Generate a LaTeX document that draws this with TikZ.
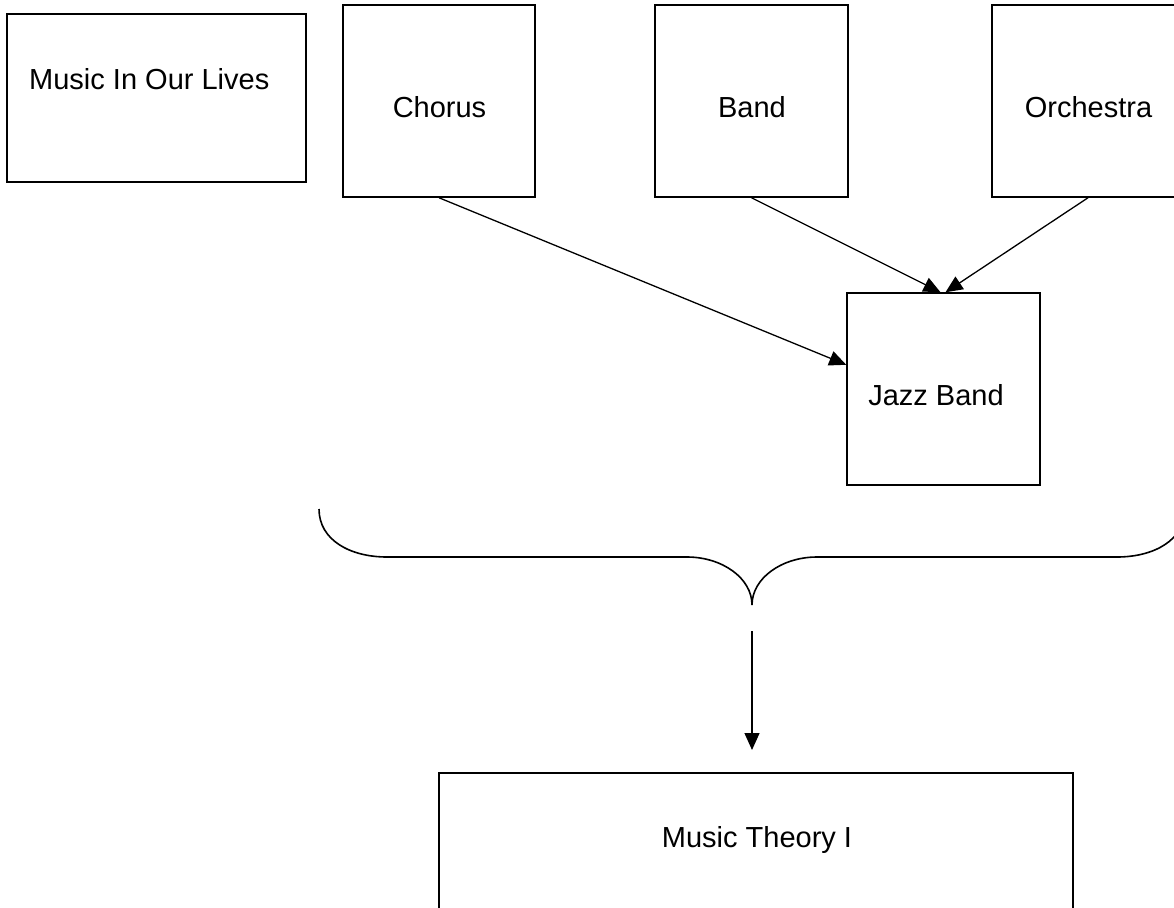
\documentclass[tikz,border=0pt]{standalone}
\usepackage{fontspec}
\setmainfont{Liberation Sans}
\usetikzlibrary{arrows.meta,calc}

\tikzset{
  box/.style={draw=black, line width=1.5pt, inner sep=0pt, fill=white},
  lbl/.style={inner sep=0pt, font=\fontsize{29}{35}\selectfont, anchor=base},
  link/.style={draw=black, line width=1.3pt, -{Triangle[length=17pt,width=15pt]}},
  brace/.style={draw=black, line width=1.6pt}
}

\begin{document}
\begin{tikzpicture}[x=1pt, y=-1pt]
  \clip (0,0) rectangle (1174,907);
  \fill[white] (0,0) rectangle (1174,907);

  % course boxes
  \node[box, minimum width=299pt, minimum height=168pt] (lives)  at (156.5,98) {};
  \node[box, minimum width=192pt, minimum height=192pt] (chorus) at (439,101) {};
  \node[box, minimum width=193pt, minimum height=192pt] (band)   at (751.5,101) {};
  \node[box, minimum width=192pt, minimum height=192pt] (orch)   at (1088,101) {};
  \node[box, minimum width=193pt, minimum height=192pt] (jazz)   at (943.5,389) {};
  \node[box, minimum width=634pt, minimum height=200pt] (theory) at (756,873) {};

  % box titles
  \node[lbl, anchor=base west] (tlives) at (29,89) {Music In Our Lives};
  \node[lbl] (tchorus) at (439.5,117) {Chorus};
  \node[lbl] (tband)   at (752,117) {Band};
  \node[lbl] (torch)   at (1088.5,117) {Orchestra};
  \node[lbl] (tjazz)   at (936,405) {Jazz Band};
  \node[lbl] (ttheory) at (757,847) {Music Theory I};

  % ensembles feeding into jazz band
  \draw[link] (chorus.south) -- ($(jazz.north west)!0.375!(jazz.south west)$);
  \draw[link] (band.south) -- ($(jazz.north)+(-3,0)$);
  \draw[link] (orch.south) -- ($(jazz.north)+(2,0)$);

  % curly brace grouping the ensembles
  \coordinate (bleft)  at (319,509);
  \coordinate (btip)   at (752,605);
  \coordinate (bright) at (1185,509);
  \draw[brace] (bleft) .. controls (319,540) and (350,557) .. (387,557)
               -- (687,557) .. controls (722,557) and (752,578) .. (btip)
               .. controls (752,578) and (782,557) .. (817,557)
               -- (1117,557) .. controls (1154,557) and (1185,540) .. (bright);

  % arrow down to music theory
  \coordinate (astart) at (752,631);
  \coordinate (aend)   at (752,750);
  \draw[link] (astart) -- (aend);
\end{tikzpicture}
\end{document}
